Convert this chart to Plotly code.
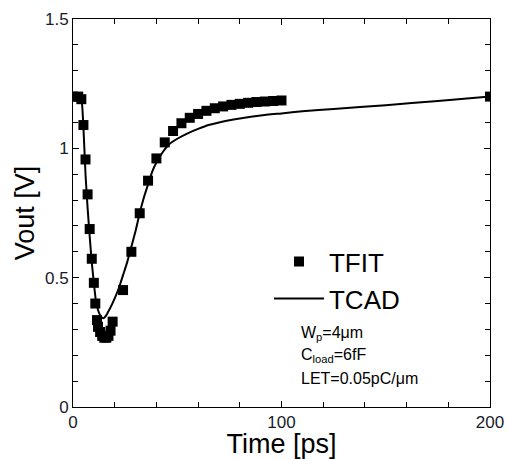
import plotly.graph_objects as go

# TFIT data (squares)
tfit_t = [0, 2.5, 4, 5, 6, 7, 8, 9, 10, 10.7, 11.5, 12, 13, 14, 15, 16, 17, 18, 19,
          24, 28, 32, 36, 40, 44, 48, 52, 56, 60, 64, 68, 72, 76, 80, 84, 88, 92, 96, 100, 200]
tfit_v = [1.2, 1.2, 1.19, 1.09, 0.957, 0.822, 0.688, 0.573, 0.48, 0.40, 0.336, 0.31, 0.29,
          0.275, 0.268, 0.268, 0.275, 0.295, 0.33,
          0.452, 0.60, 0.749, 0.875, 0.961, 1.023, 1.067, 1.097, 1.118, 1.133, 1.145,
          1.155, 1.162, 1.168, 1.172, 1.176, 1.179, 1.181, 1.183, 1.185, 1.2]

# TCAD data (line)
tcad_t = [0, 2, 3, 4, 5, 6, 7, 8, 9, 10, 11, 12, 13, 14, 14.5, 15, 16, 17, 18, 20, 22, 24,
          26, 28, 30, 32, 34, 36, 38, 40, 43, 46, 50, 55, 60, 65, 70, 80, 90, 100, 110,
          125, 150, 175, 200]
tcad_v = [1.2, 1.2, 1.2, 1.19, 1.08, 0.90, 0.77, 0.66, 0.56, 0.48, 0.41, 0.375, 0.355,
          0.345, 0.343, 0.345, 0.355, 0.37, 0.385, 0.42, 0.46, 0.51, 0.56, 0.62, 0.68,
          0.75, 0.81, 0.86, 0.91, 0.945, 0.985, 1.015, 1.037, 1.058, 1.075, 1.09, 1.10,
          1.115, 1.127, 1.135, 1.143, 1.152, 1.167, 1.183, 1.2]

info_lines = ["W<sub>p</sub>=4\u03bcm", "C<sub>load</sub>=6fF", "LET=0.05pC/\u03bcm"]

font = "Liberation Sans, Arial, sans-serif"

fig = go.Figure()
fig.add_trace(go.Scatter(x=tcad_t, y=tcad_v, mode="lines", name="TCAD",
                         line=dict(color="black", width=2, shape="spline", smoothing=0.6),
                         showlegend=False))
fig.add_trace(go.Scatter(x=tfit_t, y=tfit_v, mode="markers", name="TFIT",
                         marker=dict(symbol="square", size=10, color="black")))
fig.add_trace(go.Scatter(x=[None], y=[None], mode="lines", name="TCAD",
                         line=dict(color="black", width=2)))

axis_common = dict(showline=True, linecolor="black", linewidth=1, mirror="ticks",
                   ticks="inside", ticklen=6, tickcolor="black", showgrid=False,
                   zeroline=False, automargin=False,
                   tickfont=dict(family=font, size=17, color="#1a1a2a"))

fig.update_xaxes(range=[0, 200], tickvals=[0, 100, 200],
                 minor=dict(ticks="inside", ticklen=5, dtick=20, tickcolor="black"),
                 title=dict(text="Time [ps]", font=dict(family=font, size=27, color="black"),
                            standoff=3),
                 **axis_common)
fig.update_yaxes(range=[0, 1.5], tickvals=[0, 0.5, 1, 1.5], ticktext=["0", "0.5", "1", "1.5"],
                 minor=dict(ticks="inside", ticklen=5, dtick=0.1, tickcolor="black"),
                 title=dict(text="Vout [V]", font=dict(family=font, size=27, color="black"),
                            standoff=2),
                 **axis_common)

for i, txt in enumerate(info_lines):
    fig.add_annotation(x=0.543, y=0.19 - i * 0.058, xref="paper", yref="paper",
                       text=txt, showarrow=False, xanchor="left", yanchor="middle",
                       font=dict(family=font, size=16, color="black"))

fig.update_layout(
    width=508, height=459,
    margin=dict(l=73, r=18, t=19, b=52),
    paper_bgcolor="white", plot_bgcolor="white",
    legend=dict(x=0.47, y=0.435, xanchor="left", yanchor="top",
                font=dict(family=font, size=26, color="black"),
                bgcolor="rgba(0,0,0,0)", tracegroupgap=0, itemwidth=50),
)

fig.write_html("out.html")
